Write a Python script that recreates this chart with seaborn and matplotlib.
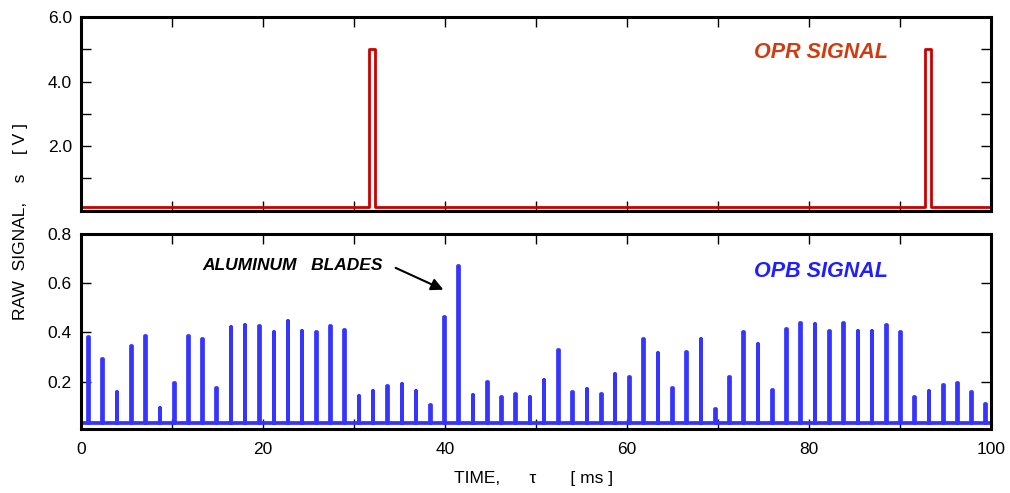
import numpy as np
import pandas as pd
import matplotlib
matplotlib.use("Agg")
from matplotlib import pyplot as plt
import seaborn as sns

# OPR (once-per-revolution) pulses: start / end times [ms] and level [V]
opr_start = [31.65, 92.75]
opr_end = [32.30, 93.40]
opr_level = 5.0
opr_base = 0.10

# OPB (once-per-blade) spikes: times [ms] and peak heights [V]
opb_time = [0.80, 2.38, 3.96, 5.57, 7.10, 8.68, 10.26, 11.80, 13.37, 14.90,
            16.48, 18.00, 19.60, 21.20, 22.75, 24.30, 25.90, 27.44, 28.98, 30.55,
            32.10, 33.70, 35.27, 36.80, 38.39, 39.97, 41.50, 43.08, 44.65, 46.23,
            47.77, 49.34, 50.88, 52.45, 54.03, 55.60, 57.18, 58.70, 60.30, 61.84,
            63.40, 64.98, 66.56, 68.13, 69.70, 71.28, 72.80, 74.40, 75.97, 77.55,
            79.09, 80.66, 82.23, 83.80, 85.38, 86.90, 88.50, 90.03, 91.60, 93.20,
            94.76, 96.30, 97.88, 99.40]
opb_peak = [0.383, 0.291, 0.159, 0.346, 0.387, 0.092, 0.196, 0.387, 0.372, 0.173,
            0.422, 0.432, 0.425, 0.403, 0.445, 0.406, 0.403, 0.425, 0.409, 0.141,
            0.163, 0.184, 0.191, 0.161, 0.105, 0.464, 0.668, 0.145, 0.199, 0.138,
            0.149, 0.139, 0.208, 0.328, 0.157, 0.169, 0.150, 0.233, 0.218, 0.372,
            0.315, 0.173, 0.319, 0.375, 0.089, 0.218, 0.402, 0.355, 0.168, 0.414,
            0.440, 0.435, 0.406, 0.440, 0.407, 0.405, 0.430, 0.403, 0.139, 0.161,
            0.188, 0.193, 0.159, 0.108]
opb_base = 0.033
spike_half = 0.03

t_min, t_max = 0, 100

# build step traces from the listed pulses
rows = [(t_min, opr_base)]
for a, b in zip(opr_start, opr_end):
    rows += [(a, opr_base), (a, opr_level), (b, opr_level), (b, opr_base)]
rows.append((t_max, opr_base))
opr = pd.DataFrame(rows, columns=["t", "s"])

rows = [(t_min, opb_base)]
for tc, h in zip(opb_time, opb_peak):
    rows += [(tc - spike_half, opb_base), (tc - spike_half, h),
             (tc + spike_half, h), (tc + spike_half, opb_base)]
rows.append((t_max, opb_base))
opb = pd.DataFrame(rows, columns=["t", "s"])

sns.set_style("ticks")
plt.rcParams['font.family'] = ['Liberation Sans', 'DejaVu Sans']
plt.rcParams['text.color'] = 'black'

fig = plt.figure(figsize=(10.10, 4.93), dpi=100)
ax1 = fig.add_axes([0.0802, 0.573, 0.901, 0.3925])
ax2 = fig.add_axes([0.0802, 0.1308, 0.901, 0.3946])

sns.lineplot(data=opr, x="t", y="s", ax=ax1, color="#cc0000", lw=2,
             estimator=None, sort=False)
sns.lineplot(data=opb, x="t", y="s", ax=ax2, color="#3535ff", lw=2.7,
             estimator=None, sort=False)

xt = np.arange(0, 101, 10)
xl = [str(v) if v % 20 == 0 else "" for v in xt]
for ax in (ax1, ax2):
    ax.set_xlim(t_min, t_max)
    ax.set_xticks(xt)
    ax.set_xlabel("")
    ax.set_ylabel("")
    ax.tick_params(direction="in", top=True, right=True, length=7, width=1,
                   labelsize=12.5, colors="black")
    ax.tick_params(axis="x", pad=9.5)
    ax.tick_params(axis="y", pad=6.5)
    for sp in ax.spines.values():
        sp.set_linewidth(2.2)
        sp.set_color("black")

ax1.set_ylim(0, 6)
ax1.set_yticks([1, 2, 3, 4, 5, 6])
ax1.set_yticklabels(["", "2.0", "", "4.0", "", "6.0"])
ax1.set_xticklabels([])

ax2.set_ylim(0.01, 0.8)
ax2.set_yticks([0.2, 0.4, 0.6, 0.8])
ax2.set_yticklabels(["0.2", "0.4", "0.6", "0.8"])
ax2.set_xticklabels(xl)

ax1.text(81.3, 4.9, "OPR SIGNAL", color="#d23a10", fontsize=15.5,
         fontweight="bold", fontstyle="italic", ha="center", va="center")
ax2.text(81.3, 0.646, "OPB SIGNAL", color="#1f1fff", fontsize=15.5,
         fontweight="bold", fontstyle="italic", ha="center", va="center")
ax2.text(13.3, 0.672, "ALUMINUM   BLADES", color="black", fontsize=12.5,
         fontweight="bold", fontstyle="italic", ha="left", va="center")
ax2.annotate("", xy=(40.1, 0.569), xytext=(34.3, 0.667),
             arrowprops=dict(arrowstyle="-|>", color="black", lw=1.5,
                             mutation_scale=18))

fig.text(0.02, 0.55, "RAW  SIGNAL,    s    [ V ]", rotation=90,
         ha="center", va="center", fontsize=12.5)
fig.text(0.528, 0.03, "TIME,      \u03c4       [ ms ]", ha="center",
         va="center", fontsize=12.5)

fig.savefig("out.png", dpi=100)
